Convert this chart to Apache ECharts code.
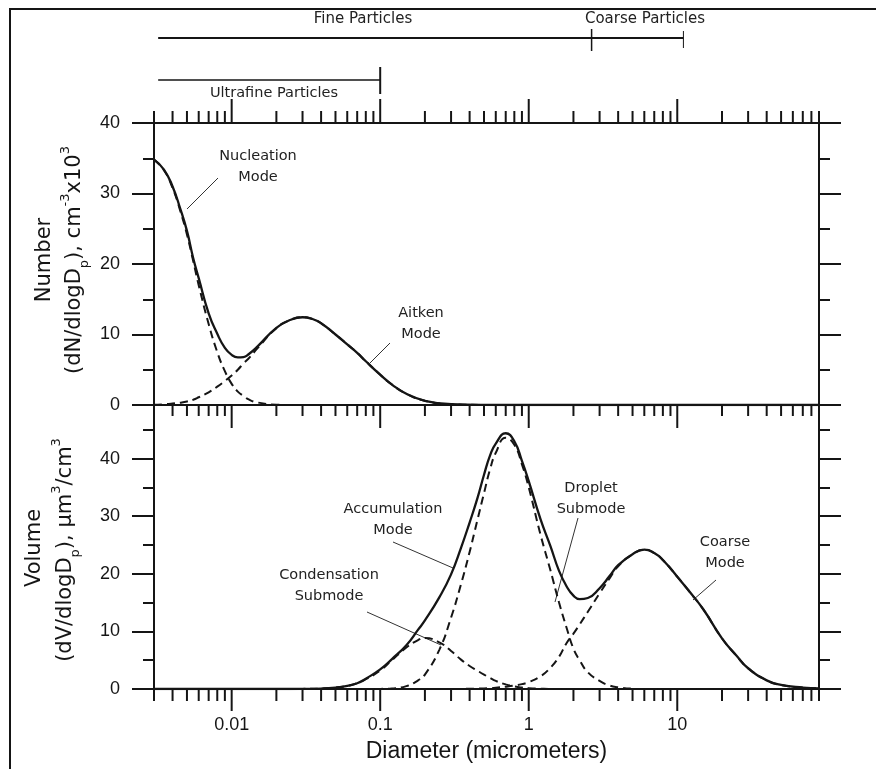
<!DOCTYPE html>
<html>
<head>
<meta charset="utf-8">
<title>Particle size distribution</title>
<style>
  html, body { margin: 0; padding: 0; background: #fff; }
  #chart { width: 876px; height: 769px; }
</style>
<script src="https://cdn.jsdelivr.net/npm/echarts@6/dist/echarts.min.js"></script>
</head>
<body>
<div id="chart"></div>
<script>
  // diameters in micrometers
  const numDiam = [0.003, 0.0035, 0.004, 0.0045, 0.005, 0.0055, 0.006, 0.007, 0.008, 0.009,
    0.01, 0.011, 0.012, 0.013, 0.015, 0.02, 0.025, 0.03, 0.035, 0.04,
    0.05, 0.06, 0.07, 0.08, 0.1, 0.12, 0.15, 0.2, 0.3, 0.5, 1, 3, 10, 90]
  // dN/dlogDp, cm-3 x 10^3
  const nucleation = [34.8, 33.3, 30.8, 27.6, 24.2, 20.5, 17.0, 11.5, 7.5, 4.8,
    3.0, 1.9, 1.3, 0.8, 0.35, 0.05, 0, 0, 0, 0,
    0, 0, 0, 0, 0, 0, 0, 0, 0, 0, 0, 0, 0, 0]
  const aitken = [0.05, 0.1, 0.2, 0.33, 0.5, 0.75, 1.1, 1.8, 2.6, 3.4,
    4.2, 5.0, 5.9, 6.6, 8.1, 10.9, 12.1, 12.45, 12.2, 11.6,
    10.0, 8.6, 7.4, 6.2, 4.3, 2.9, 1.6, 0.6, 0.12, 0.01, 0, 0, 0, 0]
  const numTotal = [34.8, 33.4, 31.0, 27.9, 24.7, 20.9, 18.0, 13.0, 10.1, 8.1,
    7.1, 6.75, 6.8, 7.2, 8.35, 10.95, 12.1, 12.45, 12.2, 11.6,
    10.0, 8.6, 7.4, 6.2, 4.3, 2.9, 1.6, 0.6, 0.12, 0.01, 0, 0, 0, 0]

  const volDiam = [0.003, 0.01, 0.02, 0.03, 0.04, 0.05, 0.06, 0.07, 0.08, 0.1,
    0.12, 0.15, 0.18, 0.2, 0.25, 0.3, 0.35, 0.4, 0.45, 0.5,
    0.55, 0.6, 0.7, 0.8, 0.9, 1.0, 1.2, 1.4, 1.6, 1.8,
    2.0, 2.2, 2.5, 3.0, 3.5, 4.0, 5.0, 6.0, 7.0, 8.0,
    10, 12, 15, 20, 25, 30, 40, 50, 70, 90]
  // dV/dlogDp, um3/cm3
  const condensation = [0, 0, 0, 0.02, 0.08, 0.25, 0.55, 1.0, 1.7, 3.2,
    5.0, 7.2, 8.5, 8.85, 8.1, 6.6, 5.1, 4.0, 3.2, 2.5,
    1.9, 1.4, 0.8, 0.45, 0.25, 0.15, 0.05, 0, 0, 0,
    0, 0, 0, 0, 0, 0, 0, 0, 0, 0,
    0, 0, 0, 0, 0, 0, 0, 0, 0, 0]
  const droplet = [0, 0, 0, 0, 0, 0, 0, 0, 0, 0.02,
    0.1, 0.5, 1.5, 2.5, 6.8, 12.4, 18.2, 23.8, 29.2, 34.0,
    38.2, 41.0, 43.6, 42.4, 39.0, 35.0, 26.8, 20.6, 15.0, 10.6,
    7.0, 5.0, 2.9, 1.4, 0.6, 0.3, 0.05, 0, 0, 0,
    0, 0, 0, 0, 0, 0, 0, 0, 0, 0]
  const coarse = [0, 0, 0, 0, 0, 0, 0, 0, 0, 0,
    0, 0, 0, 0, 0, 0, 0.02, 0.04, 0.07, 0.1,
    0.15, 0.22, 0.4, 0.6, 0.85, 1.2, 2.2, 3.7, 5.6, 8.0,
    9.6, 11.2, 13.4, 16.6, 19.2, 21.3, 23.4, 24.2, 23.6, 22.4,
    19.5, 17.0, 13.8, 8.8, 5.8, 3.6, 1.5, 0.7, 0.25, 0.1]
  const volTotal = [0, 0, 0, 0.02, 0.08, 0.25, 0.55, 1.0, 1.8, 3.4,
    5.2, 7.6, 10.3, 11.9, 15.9, 19.9, 24.5, 28.9, 33.0, 37.2,
    40.6, 42.6, 44.4, 43.0, 39.6, 36.1, 29.5, 24.8, 20.5, 17.8,
    16.2, 15.6, 15.8, 17.5, 19.6, 21.5, 23.4, 24.2, 23.6, 22.4,
    19.5, 17.0, 13.8, 8.8, 5.8, 3.6, 1.5, 0.7, 0.25, 0.1]

  // x axis ticks (log scale)
  const majorTicks = [0.01, 0.1, 1, 10]
  const minorTicks = [0.003, 0.004, 0.005, 0.006, 0.007, 0.008, 0.009,
    0.02, 0.03, 0.04, 0.05, 0.06, 0.07, 0.08, 0.09,
    0.2, 0.3, 0.4, 0.5, 0.6, 0.7, 0.8, 0.9,
    2, 3, 4, 5, 6, 7, 8, 9,
    20, 30, 40, 50, 60, 70, 80, 90]

  // size class bars above the plot
  const ultrafineSpan = [0.0032, 0.1]
  const fineSpan = [0.0032, 2.65]
  const coarseSpan = [2.65, 11]

  const xMin = 0.003
  const xMax = 90
  const numMax = 40
  const volMax = 49.3

  const ink = '#151515'
  const textFont = 'DejaVu Sans'

  const chart = echarts.init(document.getElementById('chart'))

  const pairs = (xs, ys) => xs.map((x, i) => [x, ys[i]])

  function curve(name, xs, ys, grid, dashed) {
    return {
      name: name,
      type: 'line',
      xAxisIndex: grid === 'num' ? 1 : 2,
      yAxisIndex: grid === 'num' ? 1 : 5,
      data: pairs(xs, ys),
      symbol: 'none',
      smooth: 0.5,
      silent: true,
      z: dashed ? 3 : 4,
      lineStyle: { color: ink, width: dashed ? 2 : 2.3, type: dashed ? [8, 5] : 'solid' }
    }
  }

  function yAx(grid, max, pos, step, len, labels) {
    return {
      type: 'value', gridIndex: grid, min: 0, max: max, interval: step, position: pos,
      axisLine: { show: false },
      splitLine: { show: false },
      axisTick: { show: true, inside: false, length: len, lineStyle: { color: ink, width: 2 } },
      axisLabel: labels ? {
        show: true, margin: 34, fontSize: 18, fontFamily: 'Liberation Sans', color: ink,
        formatter: (v) => (v % 10 === 0 ? String(v) : '')
      } : { show: false }
    }
  }

  function logX(grid, showLabels) {
    return {
      type: 'log', gridIndex: grid, min: xMin, max: xMax, logBase: 10,
      axisLine: { show: false }, axisTick: { show: false }, splitLine: { show: false },
      axisLabel: showLabels ? {
        show: true, margin: 27, fontSize: 18, fontFamily: 'Liberation Sans', color: ink,
        formatter: (v) => {
          const m = majorTicks.find((t) => Math.abs(Math.log10(v / t)) < 1e-6)
          return m === undefined ? '' : String(m)
        }
      } : { show: false },
      name: showLabels ? 'Diameter (micrometers)' : '',
      nameLocation: 'middle',
      nameGap: 51,
      nameTextStyle: { fontSize: 23, fontFamily: 'Liberation Sans', color: ink }
    }
  }

  const tickData = majorTicks.map((v) => [v, 1]).concat(minorTicks.map((v) => [v, 0]))

  function tickLine(api, yVal, dir, majorLen, minorLen) {
    const p = api.coord([api.value(0), yVal])
    const len = api.value(1) ? majorLen : minorLen
    return {
      type: 'line',
      shape: { x1: p[0], y1: p[1], x2: p[0], y2: p[1] + dir * len },
      style: { stroke: ink, lineWidth: 2 }
    }
  }

  function stripLine(points, width) {
    return {
      type: 'line', xAxisIndex: 0, yAxisIndex: 0, data: points, symbol: 'none',
      silent: true, lineStyle: { color: ink, width: width }
    }
  }

  function label(text, x, y, size) {
    return {
      type: 'text', x: x, y: y, silent: true,
      style: {
        text: text, fill: '#222', fontSize: size || 14.5, fontFamily: textFont, lineHeight: 21,
        align: 'center', verticalAlign: 'middle', textAlign: 'center', textVerticalAlign: 'middle'
      }
    }
  }

  function leader(x1, y1, x2, y2) {
    return {
      type: 'line', silent: true,
      shape: { x1: x1, y1: y1, x2: x2, y2: y2 },
      style: { stroke: '#333', lineWidth: 1 }
    }
  }

  const subSup = {
    sub: { fontSize: 13, fontFamily: textFont, fill: ink, lineHeight: 13, verticalAlign: 'bottom' },
    sup: { fontSize: 13, fontFamily: textFont, fill: ink, lineHeight: 13, verticalAlign: 'top' }
  }

  function yTitle(text, x, y) {
    return {
      type: 'text', x: x, y: y, rotation: Math.PI / 2, silent: true,
      style: {
        text: text, fill: ink, fontSize: 21, fontFamily: textFont, lineHeight: 32,
        align: 'center', verticalAlign: 'middle', textAlign: 'center', textVerticalAlign: 'middle',
        rich: subSup
      }
    }
  }

  const fineRow = 38
  const ultraRow = 80

  const option = {
    animation: false,
    backgroundColor: '#fff',
    grid: [
      { left: 154, right: 57, top: 0, height: 123 },
      { left: 154, right: 57, top: 123, height: 282, show: true, borderColor: ink, borderWidth: 2, backgroundColor: 'transparent' },
      { left: 154, right: 57, top: 405, height: 284, show: true, borderColor: ink, borderWidth: 2, backgroundColor: 'transparent' }
    ],
    xAxis: [
      { type: 'log', gridIndex: 0, min: xMin, max: xMax, show: false },
      logX(1, false),
      logX(2, true)
    ],
    yAxis: [
      { type: 'value', gridIndex: 0, min: 0, max: 123, inverse: true, show: false },
      yAx(1, numMax, 'left', 10, 22, true),
      yAx(1, numMax, 'left', 5, 11, false),
      yAx(1, numMax, 'right', 10, 22, false),
      yAx(1, numMax, 'right', 5, 11, false),
      yAx(2, volMax, 'left', 10, 22, true),
      yAx(2, volMax, 'left', 5, 11, false),
      yAx(2, volMax, 'right', 10, 22, false),
      yAx(2, volMax, 'right', 5, 11, false)
    ],
    series: [
      // size class bars
      stripLine([[fineSpan[0], fineRow], [coarseSpan[1], fineRow]], 2),
      stripLine([[coarseSpan[0], fineRow - 9], [coarseSpan[0], fineRow + 13]], 1.5),
      stripLine([[coarseSpan[1], fineRow - 7], [coarseSpan[1], fineRow + 10]], 1),
      stripLine([[ultrafineSpan[0], ultraRow], [ultrafineSpan[1], ultraRow]], 1.6),
      stripLine([[ultrafineSpan[1], ultraRow - 13], [ultrafineSpan[1], ultraRow + 14]], 2),

      // x ticks
      {
        type: 'custom', xAxisIndex: 1, yAxisIndex: 1, data: tickData, clip: false, silent: true,
        renderItem: (params, api) => tickLine(api, numMax, -1, 24, 12)
      },
      {
        type: 'custom', xAxisIndex: 2, yAxisIndex: 5, data: tickData, clip: false, silent: true,
        renderItem: (params, api) => ({
          type: 'group',
          children: [tickLine(api, volMax, 1, 23, 11), tickLine(api, 0, 1, 22, 12)]
        })
      },

      curve('Nucleation Mode', numDiam, nucleation, 'num', true),
      curve('Aitken Mode', numDiam, aitken, 'num', true),
      curve('Number', numDiam, numTotal, 'num', false),

      curve('Condensation Submode', volDiam, condensation, 'vol', true),
      curve('Droplet Submode', volDiam, droplet, 'vol', true),
      curve('Coarse Mode', volDiam, coarse, 'vol', true),
      curve('Volume', volDiam, volTotal, 'vol', false)
    ],
    graphic: [
      {
        type: 'rect', silent: true, z: -10,
        shape: { x: 10, y: 9, width: 900, height: 800 },
        style: { fill: 'none', stroke: ink, lineWidth: 2 }
      },
      label('Fine Particles', 363, 19, 15),
      label('Coarse Particles', 645, 19, 15),
      label('Ultrafine Particles', 274, 93, 14.5),

      label('Nucleation\nMode', 258, 167),
      leader(187, 209, 218, 178),
      label('Aitken\nMode', 421, 324),
      leader(370, 363, 390, 343),
      label('Accumulation\nMode', 393, 520),
      leader(393, 542, 453, 568),
      label('Condensation\nSubmode', 329, 586),
      leader(367, 612, 441, 645),
      label('Droplet\nSubmode', 591, 499),
      leader(578, 518, 555, 602),
      label('Coarse\nMode', 725, 553),
      leader(716, 580, 693, 600),

      yTitle('Number', 45, 260),
      yTitle('(dN/dlogD{sub|p}), cm{sup|-3}x10{sup|3}', 75, 260),
      yTitle('Volume', 35, 548),
      yTitle('(dV/dlogD{sub|p}), \u00b5m{sup|3}/cm{sup|3}', 66, 550)
    ]
  }

  chart.setOption(option)
</script>
</body>
</html>
